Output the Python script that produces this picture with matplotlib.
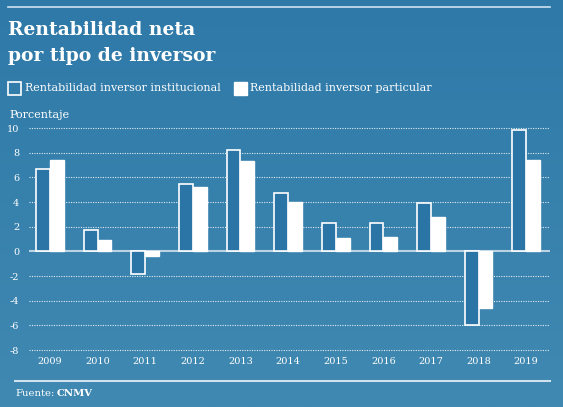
import numpy as np
import matplotlib
matplotlib.use("Agg")
import matplotlib.pyplot as plt
from matplotlib.patches import Rectangle

years = ["2009", "2010", "2011", "2012", "2013", "2014", "2015", "2016", "2017", "2018", "2019"]
institucional = [6.7, 1.7, -1.8, 5.5, 8.2, 4.7, 2.3, 2.3, 3.9, -6.0, 9.8]
particular = [7.4, 0.9, -0.4, 5.2, 7.3, 4.0, 1.1, 1.2, 2.8, -4.6, 7.4]
yticks = [-8, -6, -4, -2, 0, 2, 4, 6, 8, 10]

W, H = 563, 407
fig = plt.figure(figsize=(W / 100, H / 100), dpi=100)

# background gradient
bg = fig.add_axes([0, 0, 1, 1], zorder=-10)
top = np.array([0x2e, 0x79, 0xa8]) / 255
bot = np.array([0x40, 0x89, 0xb2]) / 255
t = np.linspace(0, 1, 256)[:, None]
grad = top[None, :] * (1 - t) + bot[None, :] * t
bg.imshow(grad[:, None, :].repeat(2, axis=1), aspect="auto", extent=[0, 1, 0, 1])
bg.set_xlim(0, 1)
bg.set_ylim(0, 1)
bg.axis("off")

serif = "DejaVu Serif"
def fx(px):
    return px / W
def fy(py):
    return 1 - py / H

# top rule
fig.add_artist(plt.Line2D([fx(8), fx(550)], [fy(7), fy(7)], color="#cfe2ee", lw=1.2))
# title
fig.text(fx(8), fy(30), "Rentabilidad neta", color="white", fontsize=13.5,
         fontweight="bold", family=serif, va="center", ha="left")
fig.text(fx(8), fy(56), "por tipo de inversor", color="white", fontsize=13.5,
         fontweight="bold", family=serif, va="center", ha="left")

# legend
fig.add_artist(Rectangle((fx(8), fy(95)), 13 / W, 13 / H, facecolor="none",
                         edgecolor="white", lw=1.2))
fig.text(fx(25), fy(88), "Rentabilidad inversor institucional", color="white",
         fontsize=8.0, family=serif, va="center", ha="left")
fig.add_artist(Rectangle((fx(234), fy(95)), 13 / W, 13 / H, facecolor="white",
                         edgecolor="white", lw=1.0))
fig.text(fx(250), fy(88), "Rentabilidad inversor particular", color="white",
         fontsize=8.0, family=serif, va="center", ha="left")

fig.text(fx(9), fy(115), "Porcentaje", color="white", fontsize=8.0,
         family=serif, va="center", ha="left")

# main axes
ext = 0.15
ppu = (350 - 128) / 18.0
y_top = 128 - ext * ppu
y_bot = 350 + ext * ppu
ax = fig.add_axes([fx(29), fy(y_bot), (550 - 29) / W, (y_bot - y_top) / H])
ax.set_facecolor("none")
x = np.arange(len(years))
w = 0.29
ax.bar(x - w / 2, institucional, width=w, color="#2a74a6", edgecolor="white",
       linewidth=1.2, zorder=3)
ax.bar(x + w / 2, particular, width=w, color="white", edgecolor="white",
       linewidth=1.0, zorder=3)
for v in yticks:
    if v == 0:
        ax.axhline(0, color="#b9d3e3", lw=1.5, zorder=2)
    else:
        ax.axhline(v, color="white", lw=0.8, ls=(0, (1, 1.2)), alpha=0.85, zorder=1)
ax.set_xlim(-0.44, 10.5)
ax.set_ylim(-8 - ext, 10 + ext)
ax.set_yticks(yticks)
ax.set_yticklabels([str(v) for v in yticks], color="white", fontsize=7, family=serif)
ax.set_xticks(x)
ax.set_xticklabels(years, color="white", fontsize=7, family=serif)
ax.tick_params(axis="both", length=0)
ax.tick_params(axis="y", pad=7)
ax.tick_params(axis="x", pad=4)
for s in ax.spines.values():
    s.set_visible(False)

# bottom rule and source
fig.add_artist(plt.Line2D([fx(15), fx(550)], [fy(381), fy(381)], color="#cfe2ee", lw=1.5))
fig.text(fx(15), fy(394), "Fuente:", color="white", fontsize=7.2, family=serif,
         va="center", ha="left")
fig.text(fx(57), fy(394), "CNMV", color="white", fontsize=7.2, family=serif,
         fontweight="bold", va="center", ha="left")

fig.savefig("out.png", dpi=100)
